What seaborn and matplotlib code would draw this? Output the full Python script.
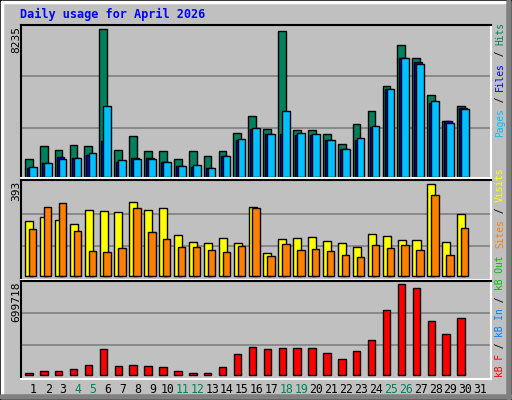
import numpy as np
import pandas as pd
import matplotlib
matplotlib.use("Agg")
import matplotlib.pyplot as plt
import seaborn as sns
from matplotlib.patches import Rectangle
from matplotlib.lines import Line2D

days = list(range(1, 32))
hits = [975,1700,1480,1760,1700,8235,1480,2260,1420,1420,975,1420,1140,1420,2430,3380,
        2650,8140,2600,2600,2375,1815,2935,3660,5060,7360,6630,4560,3100,3940,0]
files = [470,750,1090,1030,1200,1980,810,1030,1030,810,580,525,470,1140,2040,2650,
         2375,2375,2320,2320,2040,1535,2040,2770,4900,6630,6400,4110,3100,3830,0]
pages = [525,750,975,1030,1310,3940,920,975,975,810,580,640,470,1140,2100,2710,
         2375,3660,2430,2375,2040,1535,2150,2825,4900,6630,6300,4220,2990,3770,0]
visits = [235,252,239,222,282,278,273,316,282,290,175,145,141,162,141,295,
          98,158,162,167,150,141,124,179,171,154,154,393,145,265,0]
sites = [201,295,312,192,107,103,120,290,188,158,124,124,111,103,128,290,
         85,137,111,115,107,90,81,132,120,132,111,346,90,205,0]
kbytes = [15400,30800,30800,46100,76900,200000,69200,76900,69200,61500,30800,15400,15400,61500,161500,215300,
          200000,207600,207600,207600,169200,123000,184500,269100,499800,699718,669000,415200,315300,438300,0]
weekend = [4,5,11,12,18,19,25,26]
title = "Daily usage for April 2026"
maxes = ["8235", "393", "699718"]

sns.set_theme(style="white")
plt.rcParams['font.family'] = ['DejaVu Sans Mono', 'DejaVu Sans']
W, H = 512, 400
fig = plt.figure(figsize=(W/100, H/100), dpi=100, facecolor="#c0c0c0")

def fy(p):
    return 1 - p / H

# bevel border
fig.add_artist(Rectangle((0, 0), 1, 1, transform=fig.transFigure, fill=False, ec="black", lw=1.5))
fig.add_artist(Line2D([2/W, 2/W], [fy(2), fy(396)], transform=fig.transFigure, color="white", lw=2.5))
fig.add_artist(Line2D([2/W, 508/W], [fy(2), fy(2)], transform=fig.transFigure, color="white", lw=2.5))
fig.add_artist(Line2D([509/W, 509/W], [fy(2), fy(398)], transform=fig.transFigure, color="#808080", lw=4))
fig.add_artist(Line2D([2/W, 510/W], [fy(397), fy(397)], transform=fig.transFigure, color="#808080", lw=4))

fig.text(20/W, fy(14), title, color="#0000ff", fontsize=8.6, fontweight="bold", va="center", ha="left")

L, R = 20.7, 491
# (frame top, frame bottom, zero px, max px)
panels = [(25, 178, 176.7, 29.3), (180, 280, 276.3, 184.3), (281, 379, 375.3, 284.3)]
maxv = [8235, 393, 699718]
axes = []
for (t, b, z, m), mv in zip(panels, maxv):
    ax = fig.add_axes([L/W, fy(b), (R-L)/W, (b-t)/H])
    ax.set_facecolor("#c0c0c0")
    ppu = (z - m) / mv
    ax.set_ylim(-(b - z) / ppu, (z - t) / ppu)
    ax.set_yticks([mv*0.33, mv*0.68])
    ax.yaxis.grid(True, color="#808080", lw=1.2)
    ax.set_axisbelow(True)
    ax.tick_params(left=False, bottom=False, labelleft=False, labelbottom=False)
    for s in ["left", "top"]:
        ax.spines[s].set_color("black"); ax.spines[s].set_linewidth(1.5)
    for s in ["right", "bottom"]:
        ax.spines[s].set_color("white"); ax.spines[s].set_linewidth(1.5)
    axes.append(ax)

def bars(ax, vals, off, width, color):
    df = pd.DataFrame({"x": [d + off for d in days], "y": vals})
    df = df[df["y"] > 0]
    sns.barplot(data=df, x="x", y="y", native_scale=True, width=width, color=color,
                edgecolor="black", linewidth=1, saturation=1, ax=ax)

bars(axes[0], hits, -0.30, 0.52, "#00805c")
bars(axes[0], files, -0.165, 0.52, "#0000ff")
bars(axes[0], pages, -0.03, 0.52, "#00c0ff")
bars(axes[1], visits, -0.28, 0.54, "#ffff00")
bars(axes[1], sites, -0.04, 0.50, "#ff8000")
bars(axes[2], kbytes, -0.29, 0.50, "#ff0000")

for ax, (t, b, z, m), lab in zip(axes, panels, maxes):
    ax.set_xlim(0.16, 31.72)
    ax.set_xlabel(""); ax.set_ylabel("")
    fig.text(16/W, fy(t + 1), lab, rotation=90, fontsize=8, color="black", ha="center", va="top")

ax3 = axes[2]
ax3.set_xticks(days)
ax3.set_xticklabels([str(d) for d in days], fontsize=8.3)
ax3.tick_params(labelbottom=True, length=0, pad=3)
for d, tl in zip(days, ax3.get_xticklabels()):
    tl.set_color("#00805c" if d in weekend else "black")

# right-side multi-colour labels
fs = 6.9
adv = fs / 72 * 100 * 0.602
def vlabel(parts, y_bottom):
    pos = 0
    for txt, col in parts:
        fig.text(500/W, fy(y_bottom - pos*adv), txt, rotation=90, fontsize=fs, color=col,
                 ha="center", va="bottom")
        pos += len(txt)

p1 = [("Pages", "#00c0ff"), (" / ", "black"), ("Files", "#0000ff"), (" / ", "black"), ("Hits", "#00805c")]
vlabel(p1, 137)
p2 = [("Sites", "#ff8000"), (" / ", "black"), ("Visits", "#ffff00")]
vlabel(p2, 248)
p3 = [("kB F", "#ff0000"), (" / ", "black"), ("kB In", "#0080ff"), (" / ", "black"), ("kB Out", "#00c000")]
vlabel(p3, 377)

fig.savefig("out.png", dpi=100, facecolor=fig.get_facecolor())
